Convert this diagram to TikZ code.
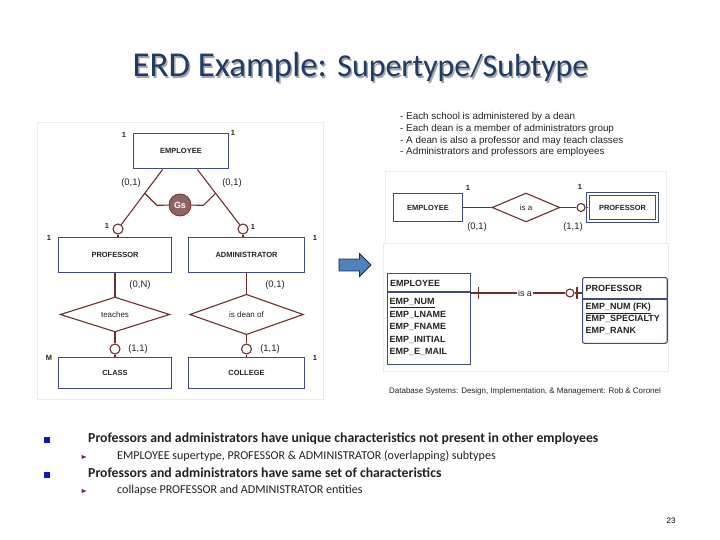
\documentclass[tikz,border=0pt]{standalone}
\usepackage{fontspec}
\setmainfont{Carlito}
\newfontfamily\erdfont{Liberation Sans}
\usepackage{xcolor}
\usepackage{tikz}
\usetikzlibrary{positioning,calc,shapes.geometric,shapes.arrows}
\definecolor{ink}{HTML}{222222}
\definecolor{titleblue}{HTML}{1F3B68}
\definecolor{entblue}{HTML}{3E4B7C}
\definecolor{relred}{HTML}{6E2E2E}
\definecolor{gsfill}{HTML}{8E6464}
\definecolor{arrowfill}{HTML}{4F81BD}
\definecolor{arrowline}{HTML}{1F2A44}
\definecolor{bulletblue}{HTML}{1515C8}
\definecolor{tickpurple}{HTML}{6A2A6A}
\tikzset{
  ent/.style={draw=entblue,line width=1.1pt,fill=white,inner sep=0pt,text=ink,
    font=\erdfont\bfseries\fontsize{7.5}{8}\selectfont},
  rel/.style={diamond,draw=relred,line width=1.1pt,fill=white,inner sep=0pt,text=ink,
    font=\erdfont\fontsize{8}{9}\selectfont},
  conn/.style={draw=relred,line width=1.1pt},
  opt/.style={circle,draw=relred,line width=1.1pt,fill=white,inner sep=0pt,minimum size=10bp},
  gsnode/.style={circle,draw=relred,line width=.8pt,fill=gsfill,text=white,inner sep=0pt,
    minimum size=22bp,font=\erdfont\bfseries\fontsize{9}{10}\selectfont},
  mult/.style={inner sep=0pt,text=ink,font=\erdfont\bfseries\fontsize{7.5}{8}\selectfont},
  card/.style={inner sep=0pt,text=ink,font=\erdfont\fontsize{9.5}{10}\selectfont},
  frame/.style={draw=black!8,line width=.6pt},
  tabbox/.style={draw=entblue,line width=1.1pt,fill=white,inner sep=0pt},
  tabline/.style={draw=entblue,line width=1.1pt},
  tabtext/.style={inner sep=0pt,text=ink,font=\erdfont\bfseries\fontsize{9}{12.7}\selectfont},
  note/.style={inner sep=0pt,text=ink,font=\erdfont\fontsize{9.9}{11}\selectfont},
  caption/.style={inner sep=0pt,text=ink,font=\erdfont\fontsize{8}{9}\selectfont},
  bigarrow/.style={single arrow,draw=arrowline,fill=arrowfill,line width=.8pt,
    inner xsep=0pt,inner ysep=5.5bp,minimum height=32bp,minimum width=22bp,
    single arrow head extend=5.5bp},
  titletext/.style={inner sep=0pt,text=titleblue,anchor=base},
  sq/.style={rectangle,fill=bulletblue,minimum size=5.5bp,inner sep=0pt},
  tick/.style={isosceles triangle,fill=tickpurple,minimum size=4bp,inner sep=0pt},
  mainpt/.style={inner sep=0pt,text=ink,anchor=base west,font=\bfseries\fontsize{13.8}{15}\selectfont},
  subpt/.style={inner sep=0pt,text=ink,anchor=base west,font=\fontsize{12.1}{13}\selectfont},
}

\begin{document}
\begin{tikzpicture}[x=1bp,y=-1bp]
  \useasboundingbox[fill=white] (0,0) rectangle (720,540);
  % title
  \node[titletext,text=black!35] (titleshadow) at (362,78.5)
    {\fontsize{35}{38}\selectfont ERD Example: \fontsize{32}{36}\selectfont Supertype/Subtype};
  \node[titletext] (title) at (360.5,77)
    {\fontsize{35}{38}\selectfont ERD Example: \fontsize{32}{36}\selectfont Supertype/Subtype};

  % left ERD
  \draw[frame] (37,122) rectangle (323,399);
  \node[ent,minimum width=96,minimum height=36] (emp) at (181,151) {EMPLOYEE};
  \node[ent,minimum width=113,minimum height=36] (prof) at (115,255) {PROFESSOR};
  \node[ent,minimum width=117,minimum height=36] (admin) at (246.5,255) {ADMINISTRATOR};
  \node[rel,minimum width=110,minimum height=35] (teaches) at (115,314.5) {teaches};
  \node[rel,minimum width=114,minimum height=35] (dean) at (246.5,314.5) {is dean of};
  \node[ent,minimum width=114,minimum height=32] (class) at (115,373) {CLASS};
  \node[ent,minimum width=117,minimum height=32] (college) at (246.5,373) {COLLEGE};
  \node[opt] (optL) at (118,229) {};
  \node[opt] (optR) at (243,229) {};
  \node[opt] (optC) at (115,349) {};
  \node[opt] (optG) at (246.5,349) {};
  \node[gsnode] (gs) at (180,205) {Gs};
  \coordinate (empL) at ([xshift=30bp]emp.south west);
  \coordinate (empR) at ([xshift=-32bp]emp.south east);
  \draw[conn] (empL) -- (optL);
  \draw[conn] (empR) -- (optR);
  \draw[conn] (optL) -- (optL |- prof.north);
  \draw[conn] (optR) -- (optR |- admin.north);
  \coordinate (gsL) at ($(empL)!0.4!(optL)$);
  \coordinate (gsR) at ($(empR)!0.4!(optR)$);
  \draw[conn] (gsL) -- ++(12,12) -- (gs);
  \draw[conn] (gsR) -- ++(-12,12) -- (gs);
  \draw[conn] (prof) -- (teaches);
  \draw[conn] (teaches) -- (optC);
  \draw[conn] (optC) -- (class);
  \draw[conn] (admin) -- (dean);
  \draw[conn] (dean) -- (optG);
  \draw[conn] (optG) -- (college);

  % cardinalities
  \foreach \x/\y/\t [count=\i] in {124/135/1,233/133/1,107/226/1,253/227/1,49/238/1,
      315/238/1,49/358/M,315/358/1,468/188/1,580/187/1}
    \node[mult] (mult\i) at (\x,\y) {\t};
  \foreach \x/\y/\t [count=\i] in {131/183/{(0,1)},232/183/{(0,1)},140/285/{(0,N)},
      275/285/{(0,1)},138/349/{(1,1)},270/349/{(1,1)},477/227/{(0,1)},573/227/{(1,1)}}
    \node[card] (card\i) at (\x,\y) {\t};

  % business rules
  \foreach \t [count=\i] in {{Each school is administered by a dean},
      {Each dean is a member of administrators group},
      {A dean is also a professor and may teach classes},
      {Administrators and professors are employees}}
    \node[note,anchor=base west] (rule\i) at (400,108+11.7*\i) {- \t};

  % top right ERD
  \draw[frame] (385,171) rectangle (666,243);
  \node[ent,minimum width=70,minimum height=29] (emp2) at (428,207.5) {EMPLOYEE};
  \node[rel,minimum width=68,minimum height=29] (isa) at (526,207.5) {is a};
  \node[opt,minimum size=8bp] (opt2) at (581,207.5) {};
  \node[ent,double=white,double distance=1.6pt,minimum width=69,minimum height=27]
    (prof2) at (622.5,207.5) {PROFESSOR};
  \draw[conn] (emp2) -- (isa);
  \draw[conn] (isa) -- (opt2);
  \draw[conn] (opt2) -- (prof2);

  \node[bigarrow] (move) at (352,265) {};

  % bottom right tables
  \draw[frame] (383,243) rectangle (668,371);
  \node[tabbox,minimum width=83,minimum height=91,anchor=north west] (emptab) at (387,273) {};
  \draw[tabline] ([yshift=-19bp]emptab.north west) -- ([yshift=-19bp]emptab.north east);
  \node[tabtext,anchor=west] (emphead) at (390,283) {EMPLOYEE};
  \node[tabtext,anchor=north west,align=left] (empattr) at (389.5,298)
    {\underline{EMP\_NUM}\\EMP\_LNAME\\EMP\_FNAME\\EMP\_INITIAL\\EMP\_E\_MAIL};
  \node[tabbox,rounded corners=2bp,minimum width=85,minimum height=66,anchor=north west]
    (proftab) at (582,277) {};
  \draw[tabline] ([yshift=-22bp]proftab.north west) -- ([yshift=-22bp]proftab.north east);
  \node[tabtext,anchor=west] (profhead) at (585.5,288) {PROFESSOR};
  \node[tabtext,anchor=north west,align=left,font=\erdfont\bfseries\fontsize{9}{12}\selectfont]
    (profattr) at (585.5,303) {\underline{EMP\_NUM (FK)}\\EMP\_SPECIALTY\\EMP\_RANK};
  \node[tabtext,font=\erdfont\fontsize{9}{10}\selectfont,fill=white,inner sep=1bp]
    (isa3) at (525,293) {is a};
  \node[opt,minimum size=8bp] (opt3) at ([xshift=-12bp]isa3 -| proftab.west) {};
  \draw[conn] (isa3) -- (isa3 -| emptab.east);
  \draw[conn] (isa3) -- (opt3);
  \draw[conn] (opt3) -- (opt3 -| proftab.west);
  \draw[conn] ([xshift=8bp]isa3 -| emptab.east) ++(0,-6) -- ++(0,12);
  \draw[conn] ([xshift=-5bp]isa3 -| proftab.west) ++(0,-6) -- ++(0,12);
  \node[caption,anchor=west] (source) at (389,391)
    {Database Systems: Design, Implementation, \& Management: Rob \& Coronel};

  % bullets
  \node[sq] (sq1) at (47,440) {};
  \node[mainpt] (pt1) at (88,442)
    {Professors and administrators have unique characteristics not present in other employees};
  \node[tick] (tk1) at (83,457) {};
  \node[subpt] (pt1a) at (117,459.5)
    {EMPLOYEE supertype, PROFESSOR \& ADMINISTRATOR (overlapping) subtypes};
  \node[sq] (sq2) at (47,475) {};
  \node[mainpt] (pt2) at (88,477)
    {Professors and administrators have same set of characteristics};
  \node[tick] (tk2) at (83,491) {};
  \node[subpt] (pt2a) at (117,493.5) {collapse PROFESSOR and ADMINISTRATOR entities};
  \node[inner sep=0pt,anchor=base,font=\erdfont\fontsize{8}{9}\selectfont] (page) at (671,523) {23};
\end{tikzpicture}
\end{document}
